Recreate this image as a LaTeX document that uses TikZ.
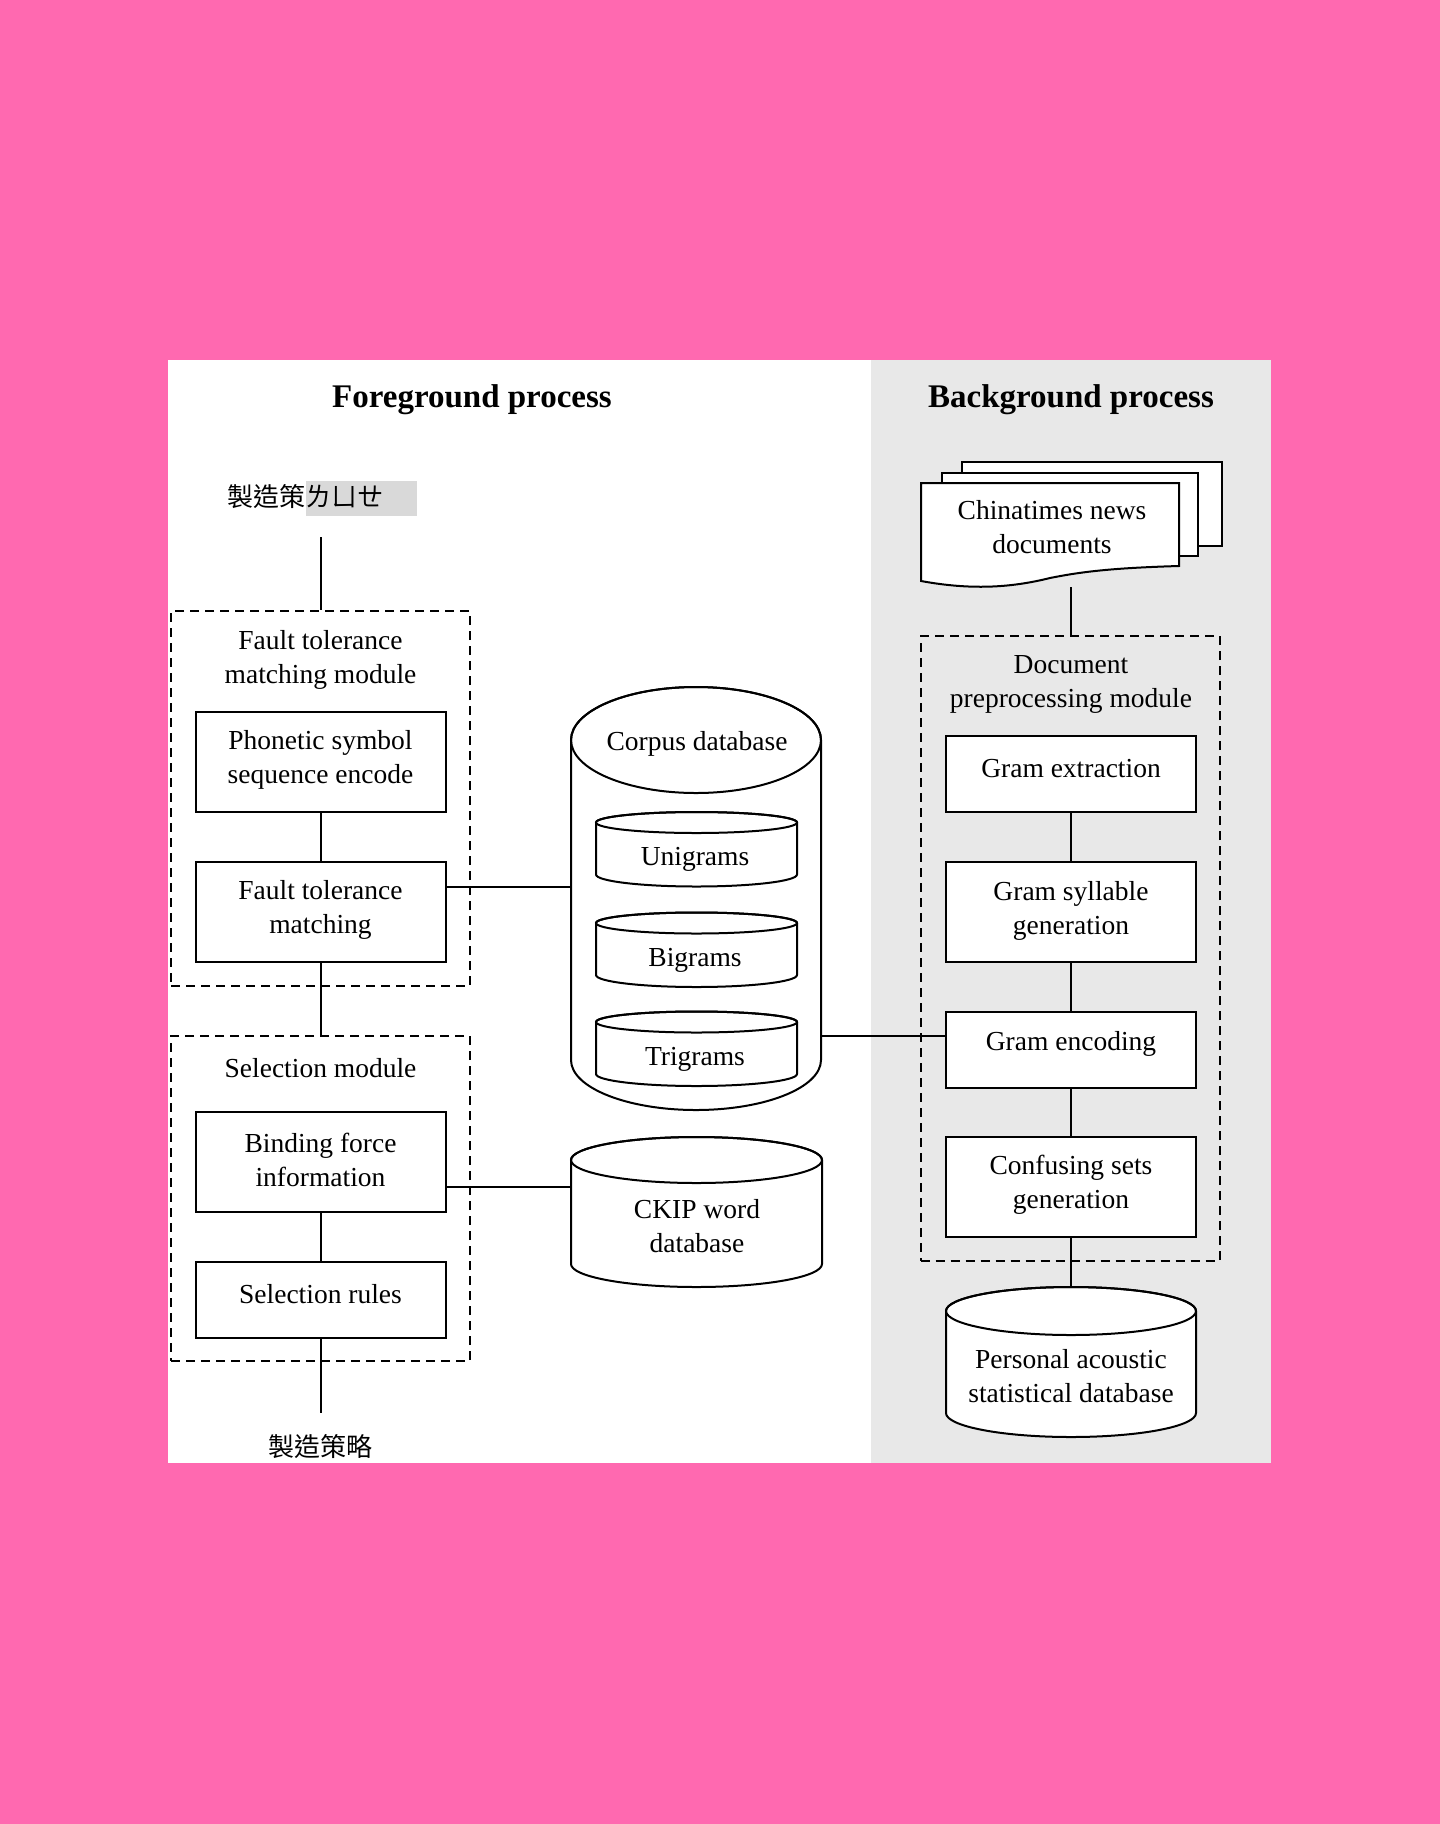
\documentclass[tikz,border=0pt]{standalone}
\usepackage{fontspec}
\setmainfont{Liberation Serif}
\newfontfamily\cjkfont{Noto Sans CJK TC}
\definecolor{bgpink}{HTML}{FF69B0}
\definecolor{panelgray}{HTML}{E8E8E8}
\definecolor{hlgray}{HTML}{D9D9D9}
\tikzset{
  box/.style={draw, fill=white, line width=2pt, minimum width=250pt, minimum height=100pt, inner sep=0pt},
  shortbox/.style={box, minimum height=76pt},
  txt/.style={font=\fontsize{27.5}{34}\selectfont, align=center, inner sep=0pt, yshift=-3pt},
  ttl/.style={font=\fontsize{33}{40}\selectfont\bfseries, inner sep=0pt, yshift=-4.5pt},
  cjk/.style={font=\cjkfont\fontsize{26}{30}\selectfont, inner sep=0pt},
  dashbox/.style={draw, dash pattern=on 9pt off 6pt, line width=2pt, inner sep=0pt},
  link/.style={line width=2pt},
  shp/.style={draw, fill=white, line width=2pt},
  area/.style={inner sep=0pt}
}
\begin{document}
\begin{tikzpicture}[x=1pt,y=-1pt]
\useasboundingbox (0,0) rectangle (1440,1824);
\fill[bgpink] (0,0) rectangle (1440,1824);
\fill[white] (168,360) rectangle (871,1463);
\fill[panelgray] (871,360) rectangle (1271,1463);

% titles
\node[ttl] (fgt) at (472,395) {Foreground process};
\node[ttl] (bgt) at (1071,395) {Background process};

% top label
\fill[hlgray] (306,481) rectangle (417,516);
\node[cjk, anchor=west] (inlab) at (227,497) {製造策ㄌㄩㄝ};
\coordinate (topend) at (320.5,537);
\node[cjk] (outlab) at (320.5,1447) {製造策略};
\coordinate (botend) at (320.5,1413);

% dashed module boxes
\node[dashbox, minimum width=299pt, minimum height=375pt] (ftmod) at (320.5,798.5) {};
\node[dashbox, minimum width=299pt, minimum height=325pt] (selmod) at (320.5,1198.5) {};
\node[dashbox, minimum width=299pt, minimum height=625pt] (docmod) at (1070,948.5) {};
\node[txt] (ftmodT) at (320.5,657) {Fault tolerance\\matching module};
\node[txt] (selmodT) at (320.5,1065) {Selection module};
\node[txt] (docmodT) at (1071,681) {Document\\preprocessing module};

% left boxes
\node[box] (phon) at (320.5,762) {};
\node[txt] (phonT) at (320.5,757) {Phonetic symbol\\sequence encode};
\node[box] (ftm) at (320.5,912) {};
\node[txt] (ftmT) at (320.5,907) {Fault tolerance\\matching};
\node[box] (bind) at (320.5,1162) {};
\node[txt] (bindT) at (320.5,1157) {Binding force\\information};
\node[shortbox] (selr) at (320.5,1300) {};
\node[txt] (selrT) at (320.5,1291) {Selection rules};

% right boxes
\node[shortbox] (gext) at (1071,774) {};
\node[txt] (gextT) at (1071,766) {Gram extraction};
\node[box] (gsyl) at (1071,912) {};
\node[txt] (gsylT) at (1071,907.5) {Gram syllable\\generation};
\node[shortbox] (genc) at (1071,1050) {};
\node[txt] (gencT) at (1071,1041) {Gram encoding};
\node[box] (conf) at (1071,1187) {};
\node[txt] (confT) at (1071,1182) {Confusing sets\\generation};

% documents
\draw[shp] (962,462) rectangle (1222,546);
\draw[shp] (942,473) rectangle (1198,556);
\draw[shp] (921,483) -- (1179,483) -- (1179,566)
  .. controls (1110,568) and (1080,572) .. (1050,578)
  .. controls (1010,588) and (970,590) .. (921,581) -- cycle;
\node[area, minimum width=258pt, minimum height=104pt] (docs) at (1050,535) {};
\node[txt] (docsT) at (1052,524.5) {Chinatimes news\\documents};
\coordinate (docbot) at (1071,587);

% corpus database
\draw[shp] (571,740) -- (571,1060) arc (180:0:125 and 50) -- (821,740) arc (0:-180:125 and 53) -- cycle;
\draw[line width=2pt] (696,740) ellipse (125 and 53);
\node[area, minimum width=250pt, minimum height=423pt] (corpus) at (696,898.5) {};
\node[txt] (corpusT) at (697,741) {Corpus database};
% inner cylinders
\foreach \nm/\cy/\lab in {uni/822.5/Unigrams, bi/923/Bigrams, tri/1022/Trigrams}{
  \draw[shp] (596,\cy) -- (596,\cy+52) arc (180:0:100.5 and 12) -- (797,\cy) arc (0:-180:100.5 and 10.5) -- cycle;
  \draw[line width=2pt] (696.5,\cy) ellipse (100.5 and 10.5);
  \node[txt] (\nm) at (695,\cy+34) {\lab};
}

% CKIP
\draw[shp] (571,1160) -- (571,1264) arc (180:0:125.5 and 23) -- (822,1160) arc (0:-180:125.5 and 23) -- cycle;
\draw[line width=2pt] (696.5,1160) ellipse (125.5 and 23);
\node[area, minimum width=251pt, minimum height=150pt] (ckip) at (696.5,1212.5) {};
\node[txt] (ckipT) at (697,1223) {CKIP word\\database};

% Personal acoustic
\draw[shp] (946,1311) -- (946,1413) arc (180:0:125 and 24) -- (1196,1311) arc (0:-180:125 and 24) -- cycle;
\draw[line width=2pt] (1071,1311) ellipse (125 and 24);
\node[area, minimum width=250pt, minimum height=150pt] (pad) at (1071,1362) {};
\node[txt] (padT) at (1071,1373) {Personal acoustic\\statistical database};

% connectors
\coordinate (l1) at (500,887);
\coordinate (l2) at (500,1187);
\coordinate (l3) at (880,1036);
\draw[link] (topend) -- (ftmod.north);
\draw[link] (phon.south) -- (ftm.north);
\draw[link] (ftm.south) -- (selmod.north);
\draw[link] (bind.south) -- (selr.north);
\draw[link] (selr.south) -- (botend);
\draw[link] (ftm.east |- l1) -- (corpus.west |- l1);
\draw[link] (bind.east |- l2) -- (ckip.west |- l2);
\draw[link] (corpus.east |- l3) -- (genc.west |- l3);
\draw[link] (docbot) -- (docmod.north -| docbot);
\draw[link] (gext.south) -- (gsyl.north);
\draw[link] (gsyl.south) -- (genc.north);
\draw[link] (genc.south) -- (conf.north);
\draw[link] (conf.south) -- (pad.north);
\end{tikzpicture}
\end{document}
